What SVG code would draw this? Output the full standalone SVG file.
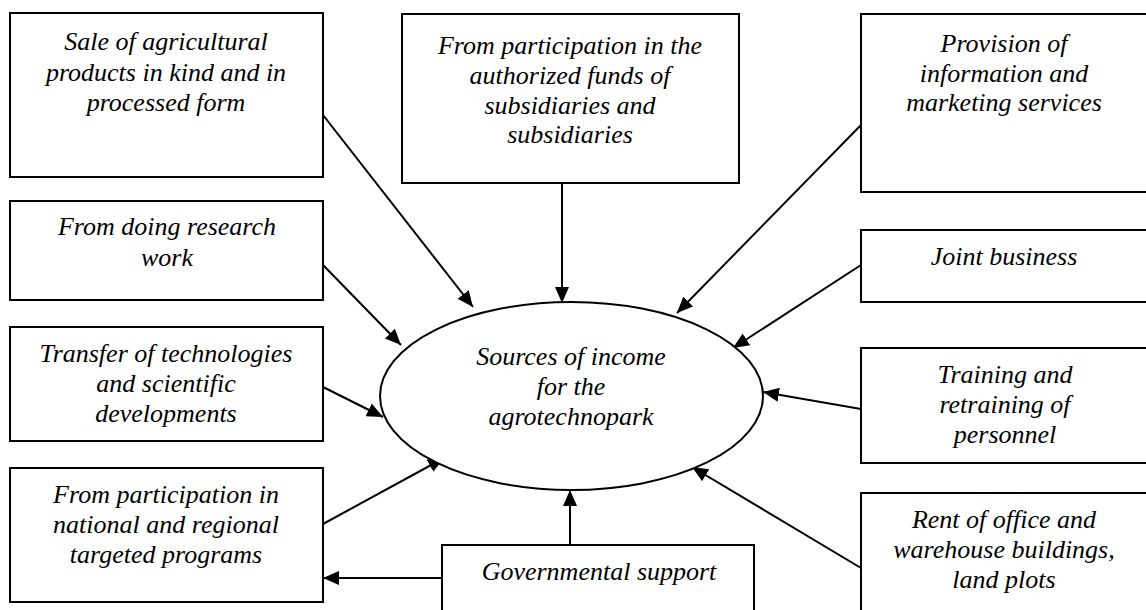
<svg xmlns="http://www.w3.org/2000/svg" width="1146" height="610" viewBox="0 0 1146 610">
<style>
.box{fill:#fff;stroke:#000;stroke-width:2}
.t{font-family:"Liberation Serif","Times New Roman",serif;font-style:italic;font-size:26px;fill:#000;text-anchor:middle}
.c{stroke:#000;stroke-width:2;fill:none;marker-end:url(#ah)}
</style>
<defs>
<marker id="ah" markerUnits="userSpaceOnUse" markerWidth="17" markerHeight="14" refX="16" refY="7" orient="auto">
<path d="M0,0 L16,7 L0,14 Z" fill="#000"/>
</marker>
</defs>
<rect width="1146" height="610" fill="#fff"/>
<g id="connectors">
<line class="c" x1="323" y1="115" x2="473" y2="307"/>
<line class="c" x1="562" y1="183" x2="562" y2="303"/>
<line class="c" x1="861" y1="125" x2="677" y2="313"/>
<line class="c" x1="323" y1="265" x2="401" y2="345"/>
<line class="c" x1="323" y1="387" x2="383" y2="417"/>
<line class="c" x1="323" y1="524" x2="444" y2="458"/>
<line class="c" x1="861" y1="265" x2="733" y2="348"/>
<line class="c" x1="861" y1="409" x2="763" y2="392"/>
<line class="c" x1="861" y1="568" x2="692" y2="467"/>
<line class="c" x1="570" y1="545" x2="570" y2="490"/>
<line class="c" x1="442" y1="578" x2="323" y2="578"/>
</g>
<g id="center">
<ellipse cx="571.5" cy="396" rx="191.5" ry="94" fill="#fff" stroke="#000" stroke-width="2"/>
<text class="t" x="571" y="365">Sources of income</text>
<text class="t" x="571" y="395">for the</text>
<text class="t" x="571" y="425">agrotechnopark</text>
</g>
<g id="n-sale">
<rect class="box" x="10" y="13" width="313" height="164"/>
<text class="t" x="166" y="50">Sale of agricultural</text>
<text class="t" x="166" y="81">products in kind and in</text>
<text class="t" x="166" y="111">processed form</text>
</g>
<g id="n-funds">
<rect class="box" x="402" y="14" width="337" height="169"/>
<text class="t" x="570" y="54">From participation in the</text>
<text class="t" x="570" y="84">authorized funds of</text>
<text class="t" x="570" y="114">subsidiaries and</text>
<text class="t" x="570" y="143">subsidiaries</text>
</g>
<g id="n-info">
<rect class="box" x="861" y="14" width="290" height="178"/>
<text class="t" x="1004" y="52">Provision of</text>
<text class="t" x="1004" y="82">information and</text>
<text class="t" x="1004" y="111">marketing services</text>
</g>
<g id="n-research">
<rect class="box" x="10" y="201" width="313" height="99"/>
<text class="t" x="167" y="235">From doing research</text>
<text class="t" x="167" y="266">work</text>
</g>
<g id="n-transfer">
<rect class="box" x="10" y="327" width="313" height="114"/>
<text class="t" x="166" y="362">Transfer of technologies</text>
<text class="t" x="166" y="392">and scientific</text>
<text class="t" x="166" y="422">developments</text>
</g>
<g id="n-programs">
<rect class="box" x="10" y="468" width="313" height="134"/>
<text class="t" x="166" y="503">From participation in</text>
<text class="t" x="166" y="533">national and regional</text>
<text class="t" x="166" y="563">targeted programs</text>
</g>
<g id="n-gov">
<rect class="box" x="442" y="545" width="312" height="80"/>
<text class="t" x="599" y="580">Governmental support</text>
</g>
<g id="n-joint">
<rect class="box" x="861" y="230" width="290" height="72"/>
<text class="t" x="1004" y="265">Joint business</text>
</g>
<g id="n-training">
<rect class="box" x="861" y="348" width="290" height="115"/>
<text class="t" x="1005" y="383">Training and</text>
<text class="t" x="1005" y="413">retraining of</text>
<text class="t" x="1005" y="443">personnel</text>
</g>
<g id="n-rent">
<rect class="box" x="861" y="493" width="290" height="130"/>
<text class="t" x="1004" y="528">Rent of office and</text>
<text class="t" x="1004" y="558">warehouse buildings,</text>
<text class="t" x="1004" y="588">land plots</text>
</g>
</svg>
